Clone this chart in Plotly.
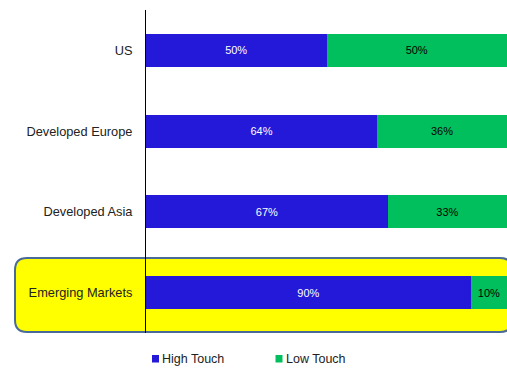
import plotly.graph_objects as go

categories = ["US", "Developed Europe", "Developed Asia", "Emerging Markets"]
high_touch = [50, 64, 67, 90]
low_touch = [50, 36, 33, 10]
series_names = ["High Touch", "Low Touch"]
colors = ["#2419D8", "#00BF5C"]
text_colors = ["white", "black"]

W, H = 507, 369
L, R, T, B = 146, 0, 10, 36
pw, ph = W - L - R, H - T - B

def px_to_paper_x(px):
    return (px - L) / pw

def py_to_paper_y(py):
    return (H - B - py) / ph

fig = go.Figure()
for name, vals, col, tcol in zip(series_names, [high_touch, low_touch], colors, text_colors):
    fig.add_trace(go.Bar(
        y=categories, x=vals, name=name, orientation="h",
        marker=dict(color=col, line=dict(width=0)),
        text=[f"{v}%" for v in vals], textposition="inside",
        insidetextanchor="middle",
        textfont=dict(color=tcol, size=11, family="Liberation Sans, Arial"),
        width=0.41, showlegend=False, hoverinfo="skip",
    ))

# Highlight rounded rectangle around Emerging Markets
x0, x1 = px_to_paper_x(15), px_to_paper_x(512)
y0, y1 = py_to_paper_y(332), py_to_paper_y(258)
rx, ry = 12 / pw, 12 / ph
path = (f"M{x0+rx},{y1} L{x1-rx},{y1} Q{x1},{y1} {x1},{y1-ry} L{x1},{y0+ry} "
        f"Q{x1},{y0} {x1-rx},{y0} L{x0+rx},{y0} Q{x0},{y0} {x0},{y0+ry} "
        f"L{x0},{y1-ry} Q{x0},{y1} {x0+rx},{y1} Z")
fig.add_shape(type="path", path=path, xref="paper", yref="paper",
              fillcolor="#FFFF00", line=dict(color="#4A6A9A", width=2), layer="below")

# Custom legend
legend_x = [152, 275.5]
for name, col, lx in zip(series_names, colors, legend_x):
    fig.add_shape(type="rect", xref="paper", yref="paper",
                  x0=px_to_paper_x(lx), x1=px_to_paper_x(lx + 7),
                  y0=py_to_paper_y(362.5), y1=py_to_paper_y(355),
                  fillcolor=col, line=dict(width=0))
    fig.add_annotation(x=px_to_paper_x(lx + 8), y=py_to_paper_y(358.5),
                       xref="paper", yref="paper", text=name, showarrow=False,
                       xanchor="left", yanchor="middle",
                       font=dict(size=12.5, color="#222", family="Liberation Sans, Arial"))

fig.update_layout(
    barmode="stack", width=W, height=H,
    margin=dict(l=L, r=R, t=T, b=B, pad=0),
    paper_bgcolor="white", plot_bgcolor="rgba(0,0,0,0)",
    font=dict(family="Liberation Sans, Arial", size=12.8, color="#222"),
    xaxis=dict(range=[0, 100], visible=False, fixedrange=True),
    yaxis=dict(categoryorder="array", categoryarray=categories, autorange="reversed",
               showline=True, linecolor="black", linewidth=1, ticks="",
               showgrid=False, zeroline=False, ticklabelstandoff=10,
               tickfont=dict(size=12.8, color="#222")),
    showlegend=False,
)

fig.write_html("out.html")
